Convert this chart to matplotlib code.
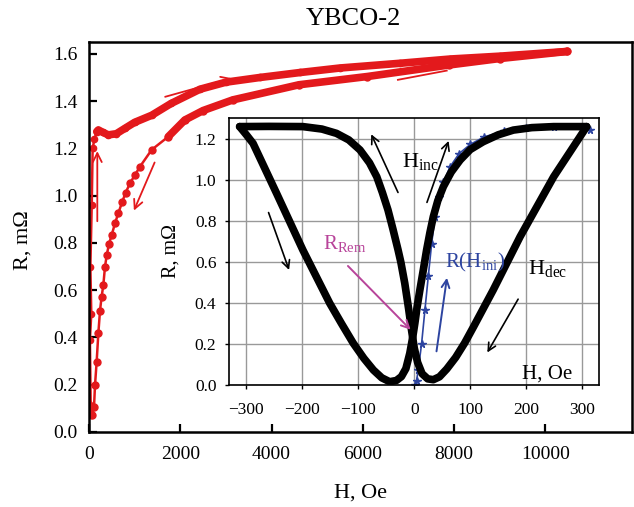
import matplotlib.pyplot as plt

plt.rcParams['font.family'] = 'Liberation Serif'
plt.rcParams['mathtext.fontset'] = 'custom'
plt.rcParams['mathtext.rm'] = 'Liberation Serif'
plt.rcParams['mathtext.it'] = 'Liberation Serif:italic'

RED = '#e3191c'
BLUE = '#2d44a0'
MAGENTA = '#b8449a'

# main plot: R(H) of YBCO-2, field up to ~10.5 kOe
h_up = [0, 40, 20, 50, 30, 60, 80, 120, 170, 205, 300, 424, 600, 790, 1000,
        1374, 1800, 2430, 3000, 3750, 4630, 5500, 6820, 7920, 9000, 10480]
r_up = [0.12, 0.07, 0.39, 0.50, 0.70, 0.96, 1.20, 1.24, 1.271, 1.278, 1.268,
        1.257, 1.262, 1.285, 1.31, 1.34, 1.39, 1.45, 1.48, 1.50, 1.521, 1.54,
        1.56, 1.578, 1.59, 1.61]

h_down = [10480, 9000, 7900, 6100, 4600, 3150, 2500, 2100, 1740, 1374, 1118,
          1009, 899, 805, 730, 643, 570, 498, 439, 390, 351, 314, 275, 241,
          205, 168, 132, 110, 73]
r_down = [1.61, 1.58, 1.553, 1.504, 1.469, 1.405, 1.36, 1.32, 1.25, 1.194,
          1.123, 1.088, 1.053, 1.013, 0.975, 0.926, 0.883, 0.834, 0.796, 0.75,
          0.70, 0.622, 0.57, 0.513, 0.418, 0.298, 0.199, 0.107, 0.072]

# inset: hysteresis loop in low fields
h_dec = [308, 249, 189, 141, 106, 90, 74, 58, 45, 34, 24, 14, 6, 0, -5, -10,
         -17, -24, -29, -38, -47, -57, -67, -80, -97, -117, -139, -165, -199,
         -260, -312]
r_dec = [1.262, 1.017, 0.724, 0.464, 0.285, 0.205, 0.135, 0.078, 0.04, 0.026,
         0.03, 0.055, 0.11, 0.18, 0.27, 0.37, 0.497, 0.60, 0.66, 0.76, 0.855,
         0.94, 1.017, 1.085, 1.148, 1.197, 1.229, 1.25, 1.262, 1.263, 1.262]
h_inc = [-312, -300, -288, -246, -199, -151, -130, -109, -90, -73, -58, -44,
         -32, -23, -15, -8, -3, 1, 5, 10, 16, 22, 28, 34, 42, 52, 66, 82, 100,
         123, 150, 177, 210, 249, 308]
r_inc = [1.262, 1.222, 1.18, 0.936, 0.659, 0.399, 0.30, 0.204, 0.13, 0.073,
         0.035, 0.016, 0.022, 0.041, 0.08, 0.155, 0.23, 0.301, 0.38, 0.464,
         0.56, 0.659, 0.745, 0.822, 0.90, 0.969, 1.04, 1.099, 1.15, 1.188,
         1.222, 1.245, 1.257, 1.262, 1.262]
h_ini = [2, 4, 7, 13, 19, 25, 31, 37, 44, 52, 64, 80, 100, 125, 160, 200, 250, 314]
r_ini = [0.0, 0.02, 0.073, 0.2, 0.366, 0.53, 0.69, 0.82, 0.92, 0.99, 1.066,
         1.13, 1.175, 1.212, 1.24, 1.255, 1.258, 1.245]

fig = plt.figure(figsize=(6.34, 5.07), dpi=100)

ax = fig.add_axes([89/634, 1-432/507, (632-89)/634, (432-42)/507])
ax.plot(h_up, r_up, color=RED, lw=1.8, marker='o', ms=4.5)
ax.plot(h_up[8:], r_up[8:], color=RED, lw=5.5, solid_capstyle='round')
ax.plot(h_down, r_down, color=RED, lw=1.8, marker='o', ms=5)
ax.plot(h_down[:9], r_down[:9], color=RED, lw=5.5, solid_capstyle='round')

arr = dict(arrowstyle='->', color=RED, lw=1.3, mutation_scale=16)
ax.annotate('', xy=(182, 1.20), xytext=(182, 0.88), arrowprops=arr)
ax.annotate('', xy=(960, 0.926), xytext=(1462, 1.151), arrowprops=arr)
ax.annotate('', xy=(3190, 1.50), xytext=(1610, 1.415), arrowprops=arr)
ax.plot([6770, 7840], [1.49, 1.529], color=RED, lw=1.3)

ax.set_xlim(0, 11900)
ax.set_ylim(0, 1.65)
ax.set_xticks(range(0, 10001, 2000))
ax.set_yticks([0.0, 0.2, 0.4, 0.6, 0.8, 1.0, 1.2, 1.4, 1.6])
ax.set_yticklabels(['0.0', '0.2', '0.4', '0.6', '0.8', '1.0', '1.2', '1.4', '1.6'])
ax.tick_params(direction='in', length=6, width=1.6, labelsize=14)
ax.tick_params(axis='x', pad=10)
ax.tick_params(axis='y', pad=8)
for s in ax.spines.values():
    s.set_linewidth(1.8)

fig.text(353.5/634, 1-19/507, 'YBCO-2', fontsize=19, ha='center', va='center')
fig.text(360/634, 1-493/507, 'H, Oe', fontsize=16, ha='center', va='center')
fig.text(23/634, 1-240/507, 'R, m\u03a9', fontsize=16, ha='center', va='center',
         rotation=90)

# inset
ins = fig.add_axes([229/634, 1-385/507, (599-229)/634, (385-118)/507])
ins.grid(True, color='#999999', lw=1.0)
ins.set_axisbelow(True)
ins.plot(h_ini, r_ini, color=BLUE, lw=1.2, marker='*', ms=5.5, zorder=2)
ins.plot(h_dec, r_dec, color='black', lw=5.5, solid_joinstyle='round',
         solid_capstyle='round', zorder=3)
ins.plot(h_inc, r_inc, color='black', lw=5.5, solid_joinstyle='round',
         solid_capstyle='round', zorder=3)

karr = dict(arrowstyle='->', color='black', lw=1.2, mutation_scale=14)
ins.annotate('', xy=(-222, 0.549), xytext=(-262, 0.855), arrowprops=karr)
ins.annotate('', xy=(-79, 1.237), xytext=(-27, 0.928), arrowprops=karr)
ins.annotate('', xy=(63, 1.205), xytext=(21, 0.879), arrowprops=karr)
ins.annotate('', xy=(128, 0.147), xytext=(188, 0.431), arrowprops=karr)
ins.annotate('', xy=(59, 0.537), xytext=(39, 0.151),
             arrowprops=dict(arrowstyle='->', color=BLUE, lw=1.4, mutation_scale=14))
ins.annotate('', xy=(-3, 0.26), xytext=(-122, 0.591),
             arrowprops=dict(arrowstyle='->', color=MAGENTA, lw=1.4, mutation_scale=14))

ins.text(-22, 1.09, r'$\mathrm{H_{inc}}$', fontsize=16, va='center')
ins.text(-163, 0.69, r'$\mathrm{R_{Rem}}$', fontsize=15, va='center', color=MAGENTA)
ins.text(55, 0.60, r'$\mathrm{R(H_{ini})}$', fontsize=15, va='center', color=BLUE)
ins.text(204, 0.57, r'$\mathrm{H_{dec}}$', fontsize=16, va='center')
ins.text(192, 0.055, 'H, Oe', fontsize=15, va='center')

ins.set_xlim(-331, 330)
ins.set_ylim(0, 1.304)
ins.set_xticks(range(-300, 301, 100))
ins.set_yticks([0.0, 0.2, 0.4, 0.6, 0.8, 1.0, 1.2])
ins.set_yticklabels(['0.0', '0.2', '0.4', '0.6', '0.8', '1.0', '1.2'])
ins.tick_params(direction='out', length=3, width=1, labelsize=12.5)
ins.tick_params(axis='x', pad=9)
ins.tick_params(axis='y', pad=6)
for s in ins.spines.values():
    s.set_linewidth(1.2)
ins.set_ylabel('R, m\u03a9', fontsize=14.5, labelpad=10)

fig.savefig('out.png', dpi=100)
